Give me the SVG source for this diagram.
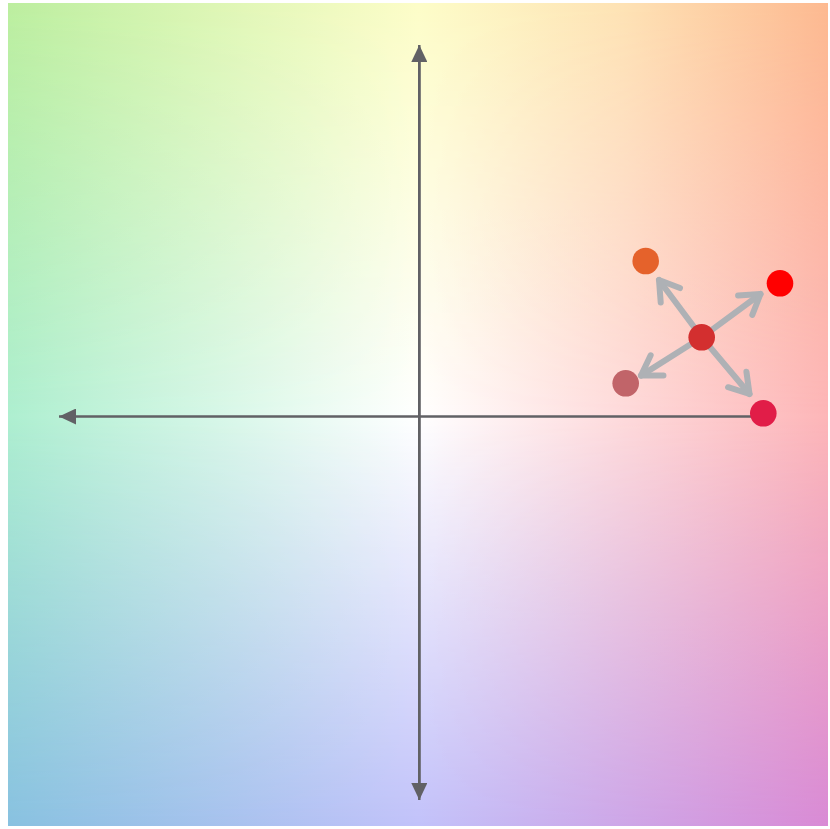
<svg xmlns="http://www.w3.org/2000/svg" width="830" height="829" viewBox="0 0 830 829">
  <style>
    .axis { stroke: #616165; stroke-width: 2.5; fill: none; }
    .conn { stroke: #aeb1b5; stroke-width: 6; fill: none; stroke-linecap: round; }
    .dot { stroke: none; }
  </style>
  <defs>
    <linearGradient id="rowTop" gradientUnits="userSpaceOnUse" x1="8" y1="0" x2="828" y2="0">
      <stop offset="0" stop-color="#bcee9f"/>
      <stop offset="0.25" stop-color="#ddf6b4"/>
      <stop offset="0.5" stop-color="#fdfdc8"/>
      <stop offset="0.75" stop-color="#fee2b4"/>
      <stop offset="1" stop-color="#fdb990"/>
    </linearGradient>
    <linearGradient id="rowMid" gradientUnits="userSpaceOnUse" x1="8" y1="0" x2="828" y2="0">
      <stop offset="0" stop-color="#aeefd0"/>
      <stop offset="0.5" stop-color="#ffffff"/>
      <stop offset="1" stop-color="#fdb6b8"/>
    </linearGradient>
    <linearGradient id="rowBot" gradientUnits="userSpaceOnUse" x1="8" y1="0" x2="828" y2="0">
      <stop offset="0" stop-color="#88c1e0"/>
      <stop offset="0.5" stop-color="#c2c2fa"/>
      <stop offset="1" stop-color="#d98ad5"/>
    </linearGradient>
    <linearGradient id="fadeTop" gradientUnits="userSpaceOnUse" x1="0" y1="3" x2="0" y2="416">
      <stop offset="0" stop-color="#fff" stop-opacity="1"/>
      <stop offset="1" stop-color="#fff" stop-opacity="0"/>
    </linearGradient>
    <linearGradient id="fadeBot" gradientUnits="userSpaceOnUse" x1="0" y1="416" x2="0" y2="826">
      <stop offset="0" stop-color="#fff" stop-opacity="0"/>
      <stop offset="1" stop-color="#fff" stop-opacity="1"/>
    </linearGradient>
    <mask id="mTop" maskUnits="userSpaceOnUse" x="0" y="0" width="830" height="829">
      <rect x="8" y="3" width="820" height="823" fill="url(#fadeTop)"/>
    </mask>
    <mask id="mBot" maskUnits="userSpaceOnUse" x="0" y="0" width="830" height="829">
      <rect x="8" y="3" width="820" height="823" fill="url(#fadeBot)"/>
    </mask>
    <marker id="tri" viewBox="-17 -8 17 16" refX="0" refY="0" markerWidth="17" markerHeight="16" markerUnits="userSpaceOnUse" orient="auto">
      <path d="M-17,-8 L0,0 L-17,8 Z" fill="#616165"/>
    </marker>
    <marker id="chev" viewBox="-26 -18 30 36" refX="0" refY="0" markerWidth="30" markerHeight="36" markerUnits="userSpaceOnUse" orient="auto">
      <path d="M-19,-12 L0,0 L-19,12" fill="none" stroke="#aeb1b5" stroke-width="6" stroke-linecap="round" stroke-linejoin="round"/>
    </marker>
  </defs>

  <g id="background">
    <rect x="8" y="3" width="820" height="823" fill="url(#rowMid)"/>
    <rect x="8" y="3" width="820" height="823" fill="url(#rowTop)" mask="url(#mTop)"/>
    <rect x="8" y="3" width="820" height="823" fill="url(#rowBot)" mask="url(#mBot)"/>
  </g>

  <g id="axes">
    <line class="axis" x1="419.3" y1="785" x2="419.3" y2="45" marker-end="url(#tri)"/>
    <line class="axis" x1="419.3" y1="60" x2="419.3" y2="800" marker-end="url(#tri)"/>
    <line class="axis" x1="760" y1="416.5" x2="59" y2="416.5" marker-end="url(#tri)"/>
  </g>

  <g id="connectors">
    <line class="conn" x1="701.7" y1="337.3" x2="659" y2="280" marker-end="url(#chev)"/>
    <line class="conn" x1="701.7" y1="337.3" x2="760.5" y2="294" marker-end="url(#chev)"/>
    <line class="conn" x1="701.7" y1="337.3" x2="641" y2="375.6" marker-end="url(#chev)"/>
    <line class="conn" x1="701.7" y1="337.3" x2="749.5" y2="394" marker-end="url(#chev)"/>
  </g>

  <g id="node-center"><circle class="dot" cx="701.7" cy="337.3" r="13.3" fill="#d32f2f"/></g>
  <g id="node-orange"><circle class="dot" cx="645.7" cy="261" r="13.3" fill="#e5622b"/></g>
  <g id="node-red"><circle class="dot" cx="780" cy="283.3" r="13.3" fill="#ff0000"/></g>
  <g id="node-muted"><circle class="dot" cx="625.7" cy="383.3" r="13.3" fill="#c16469"/></g>
  <g id="node-crimson"><circle class="dot" cx="763.3" cy="413.3" r="13.3" fill="#e11d48"/></g>
</svg>
